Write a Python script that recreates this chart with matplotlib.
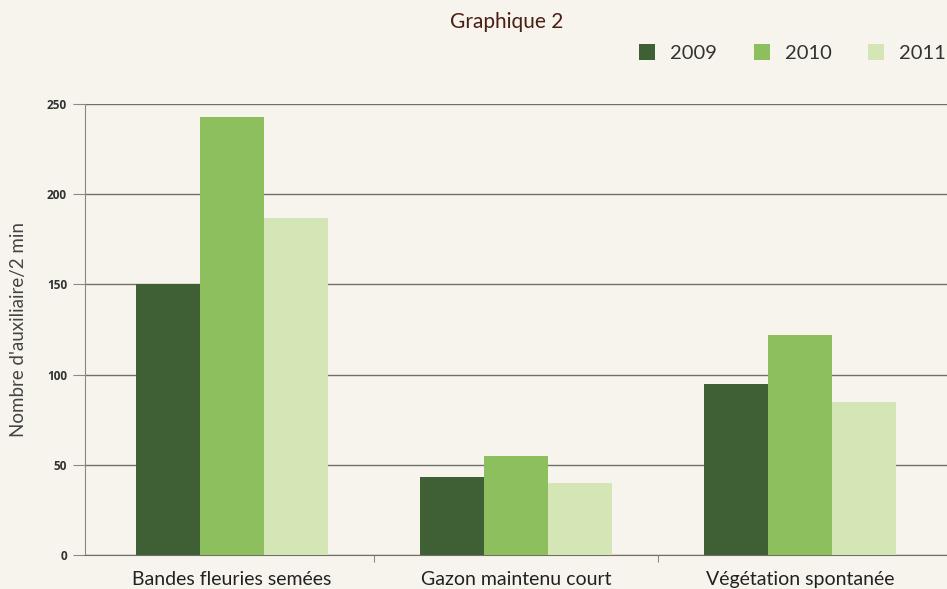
import numpy as np
import matplotlib
matplotlib.use("Agg")
from matplotlib import pyplot as plt
from matplotlib.patches import Patch

categories = ["Bandes fleuries semées", "Gazon maintenu court", "Végétation spontanée"]
years = ["2009", "2010", "2011"]
values_2009 = [150, 43, 95]
values_2010 = [243, 55, 122]
values_2011 = [187, 40, 85]
y_ticks = [0, 50, 100, 150, 200, 250]

colors = ["#3f5f35", "#8dbf5f", "#d4e6b5"]
bg = "#f6f4ec"


def main():
    fig = plt.figure(figsize=(9.47, 5.89), dpi=100, facecolor=bg)
    ax = fig.add_axes([0.0898, 0.0577, 0.9102, 0.7657], facecolor=bg)

    x = np.arange(len(categories))
    width = 0.225
    series = [values_2009, values_2010, values_2011]
    for i, (vals, c) in enumerate(zip(series, colors)):
        ax.bar(x + (i - 1) * width, vals, width, color=c, zorder=3, linewidth=0)

    ax.set_ylim(0, 250)
    ax.set_xlim(-0.518, 2.518)
    ax.set_yticks(y_ticks)
    ax.set_yticklabels([str(t) for t in y_ticks], fontsize=8.5,
                       fontweight="bold", color="#333333", family="Open Sans")
    ax.yaxis.grid(True, color="#707068", linewidth=1.0, zorder=1)
    ax.tick_params(axis="y", length=9, width=0.8, color="#8a8a82", pad=4)

    ax.set_xticks([0.5, 1.5])
    ax.set_xticklabels([])
    ax.tick_params(axis="x", length=5, width=0.8, color="#8a8a82", direction="out")
    for xi, lab in zip(x, categories):
        ax.text(xi, -9, lab, ha="center", va="top", fontsize=14,
                color="#222222", family="Lato")

    for s in ["top", "right"]:
        ax.spines[s].set_visible(False)
    ax.spines["left"].set_color("#8a8a82")
    ax.spines["bottom"].set_color("#707068")

    ax.set_ylabel("Nombre d'auxiliaire/2 min", fontsize=13.5, color="#444444",
                  family="Lato", labelpad=14)

    fig.text(0.535, 0.962, "Graphique 2", ha="center", va="center",
             fontsize=15, color="#4a1f14", family="Lato")

    handles = [Patch(facecolor=c, edgecolor="none") for c in colors]
    fig.legend(handles, years, loc="center right", bbox_to_anchor=(1.018, 0.91),
               ncol=3, frameon=False, handlelength=0.8,
               handleheight=0.8, columnspacing=1.8, handletextpad=0.75,
               labelcolor="#333333",
               prop={"family": "Lato", "size": 14.5})

    fig.savefig("out.png", dpi=100, facecolor=bg)


if __name__ == "__main__":
    main()
